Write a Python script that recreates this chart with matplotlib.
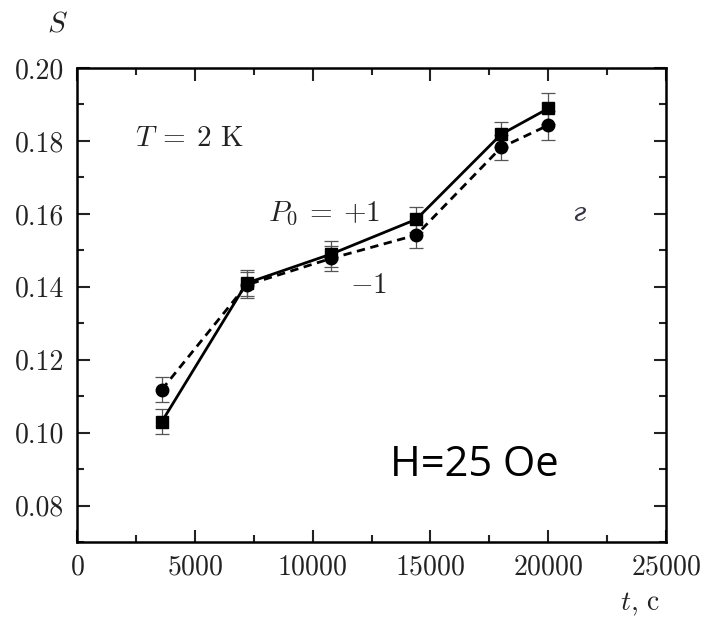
import matplotlib
matplotlib.use('Agg')
import matplotlib.pyplot as plt
from matplotlib.ticker import MultipleLocator, FormatStrFormatter

plt.rcParams['font.family'] = 'serif'
plt.rcParams['font.serif'] = ['cmr10']
plt.rcParams['mathtext.fontset'] = 'cm'
plt.rcParams['axes.formatter.use_mathtext'] = True

# data
t = [3600, 7200, 10800, 14400, 18000, 20000]
s_plus = [0.1030, 0.1410, 0.1490, 0.1585, 0.1818, 0.1889]   # P0 = +1, squares, solid
s_minus = [0.1118, 0.1405, 0.1478, 0.1542, 0.1782, 0.1843]  # P0 = -1, circles, dashed
err_plus = [0.0035, 0.0035, 0.0035, 0.0035, 0.0035, 0.0042]
err_minus = [0.0035, 0.0035, 0.0035, 0.0035, 0.0035, 0.0040]

fig = plt.figure(figsize=(7.01, 6.2), dpi=100)
ax = fig.add_axes([77 / 701, 1 - 542 / 620, 589 / 701, 474 / 620])

ax.errorbar(t, s_plus, yerr=err_plus, color='black', lw=2.0, marker='s', ms=8.5,
            ecolor='#555555', elinewidth=0.9, capsize=5, capthick=0.9)
ax.errorbar(t, s_minus, yerr=err_minus, color='black', lw=2.0, ls=(0, (3, 2)), marker='o', ms=9,
            ecolor='#555555', elinewidth=0.9, capsize=5, capthick=0.9)

ax.set_xlim(0, 25000)
ax.set_ylim(0.07, 0.20)
ax.xaxis.set_major_locator(MultipleLocator(5000))
ax.xaxis.set_minor_locator(MultipleLocator(2500))
ax.yaxis.set_minor_locator(MultipleLocator(0.01))
ax.set_yticks([0.08, 0.10, 0.12, 0.14, 0.16, 0.18, 0.20])
ax.yaxis.set_major_formatter(FormatStrFormatter('%.2f'))
ax.tick_params(which='both', direction='in', top=True, right=True, width=1.5,
               labelsize=20, colors='#222222')
ax.tick_params(which='major', length=9, pad=9)
ax.tick_params(which='minor', length=5)
for sp in ax.spines.values():
    sp.set_linewidth(1.8)

fig.text(57 / 701, 1 - 24 / 620, '$S$', fontsize=21, ha='center', va='center', color='#222222')
fig.text(640 / 701, 1 - 604 / 620, '$t$, c', fontsize=20, ha='center', va='center', color='#222222')

ax.text(2450, 0.1805, r'$T\:=\:2$ K', fontsize=21, color='#222222', va='center')
ax.text(8100, 0.1600, r'$P_0\:=\:+1$', fontsize=21, color='#222222', va='center')
ax.text(11600, 0.1403, '$-1$', fontsize=21, color='#222222', va='center')
ax.text(21300, 0.1600, 'г', fontsize=19, style='italic', family='DejaVu Serif',
        color='#333344', va='center', ha='center')
ax.text(13300, 0.0912, 'H=25 Oe', fontsize=30, family='Open Sans', color='black', va='center')

fig.savefig('out.png', dpi=100)
